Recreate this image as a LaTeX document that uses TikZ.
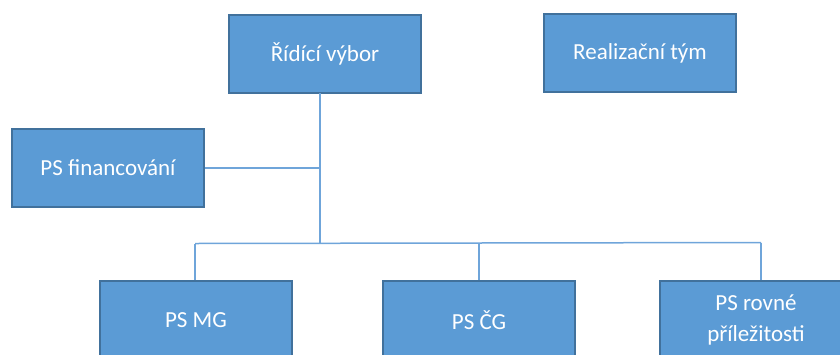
\documentclass[tikz,border=0pt]{standalone}
\usepackage{fontspec}
\setmainfont{Carlito}
\begin{document}
\begin{tikzpicture}[x=1pt,y=-1pt,
  orgbox/.style={draw=boxedge, fill=boxfill, line width=2pt, minimum width=192pt, minimum height=78pt,
    text=white, font=\fontsize{23}{31}\selectfont, align=center, inner sep=0pt},
  link/.style={draw=linkcol, line width=1.5pt}]
\definecolor{boxfill}{HTML}{5B9BD5}
\definecolor{boxedge}{HTML}{41719C}
\definecolor{linkcol}{HTML}{6FA5DA}
\useasboundingbox (0,0) rectangle (840,354);
\clip (0,0) rectangle (840,354);
\node[orgbox] (rv) at (325,54) {Řídící výbor};
\node[orgbox] (rt) at (640,53) {Realizační tým};
\node[orgbox] (fin) at (108,168) {PS financování};
\node[orgbox] (mg) at (196,320) {PS MG};
\node[orgbox] (cg) at (479,320) {PS ČG};
\node[orgbox] (rp) at (756,320) {PS rovné\\příležitosti};
\coordinate (top) at (320,93);
\coordinate (j) at (320,243);
\coordinate (bl) at (195,243.5);
\coordinate (br) at (761,242.5);
\draw[link] (top) -- (j);
\draw[link] (fin.east) -- (fin.east -| j);
\draw[link] (bl) -- (br);
\draw[link] (bl) -- (bl |- mg.north);
\draw[link] (cg.north |- j) -- (cg.north);
\draw[link] (br) -- (br |- rp.north);
\end{tikzpicture}
\end{document}
